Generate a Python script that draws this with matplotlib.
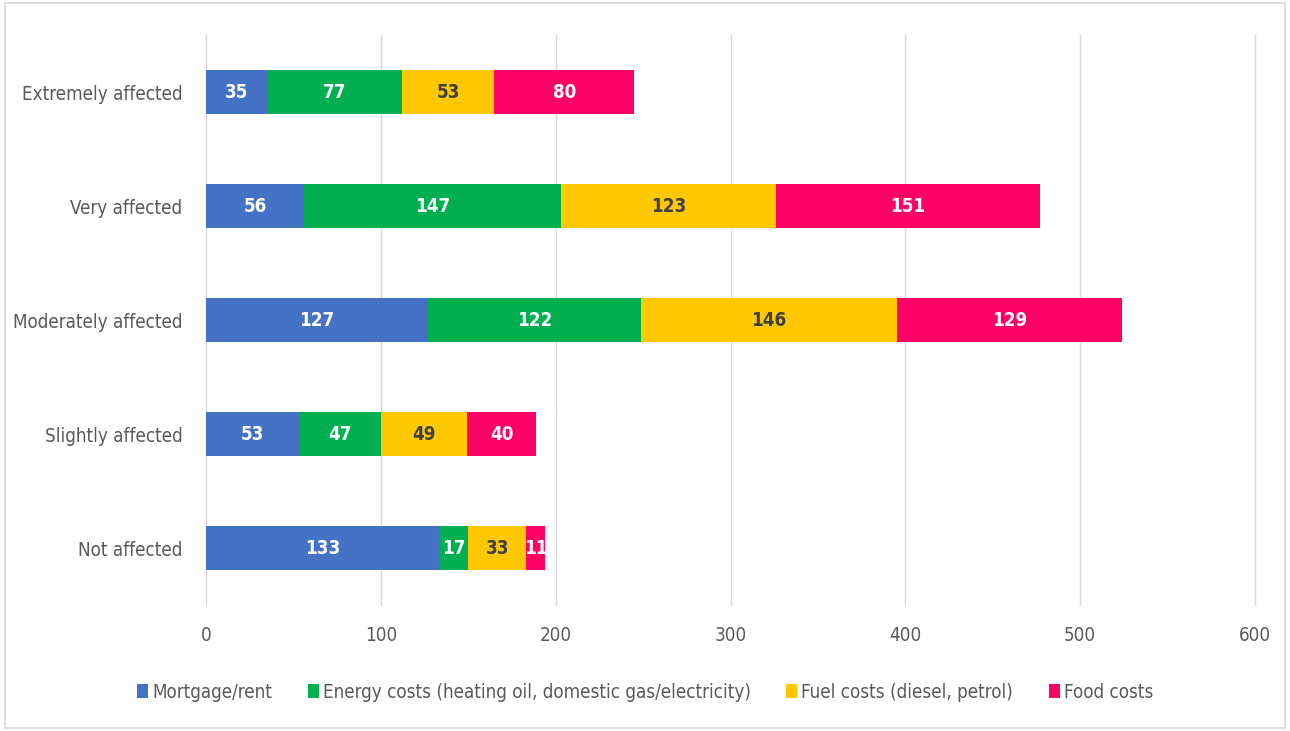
import numpy as np
import matplotlib.pyplot as plt
from matplotlib import font_manager
from matplotlib.patches import Rectangle

# condensed face if there is one, like the narrow office font of the original
narrow = [f for f in font_manager.fontManager.ttflist
          if f.name == 'DejaVu Sans' and f.stretch == 'condensed']
plt.rcParams['font.family'] = ['DejaVu Sans']
if narrow:
    plt.rcParams['font.stretch'] = 'condensed'
    fs = 13.5
else:
    fs = 12

categories = ['Extremely affected', 'Very affected', 'Moderately affected',
              'Slightly affected', 'Not affected']
mortgage = [35, 56, 127, 53, 133]
energy = [77, 147, 122, 47, 17]
fuel = [53, 123, 146, 49, 33]
food = [80, 151, 129, 40, 11]
series_names = ['Mortgage/rent', 'Energy costs (heating oil, domestic gas/electricity)',
                'Fuel costs (diesel, petrol)', 'Food costs']
colors = ['#4472C4', '#00B050', '#FFC800', '#FF0066']
label_colors = ['white', 'white', '#404040', 'white']

fig = plt.figure(figsize=(12.9, 7.31), dpi=100)
ax = fig.add_axes([206/1290, 1-605/731, (1255-206)/1290, 570/731])

y = np.arange(len(categories))
left = np.zeros(len(categories))
for vals, name, c, lc in zip([mortgage, energy, fuel, food], series_names, colors, label_colors):
    bars = ax.barh(y, vals, left=left, height=0.385, color=c, label=name, zorder=3)
    ax.bar_label(bars, labels=[str(v) for v in vals], label_type='center',
                 color=lc, fontsize=fs, fontweight='bold')
    left = left + np.array(vals)

ax.set_ylim(4.5, -0.5)
ax.set_xlim(0, 600)
ax.set_xticks(range(0, 601, 100))
ax.set_yticks(y)
ax.set_yticklabels(categories)
ax.tick_params(length=0, labelsize=fs, labelcolor='#595959')
ax.tick_params(axis='y', pad=17)
ax.tick_params(axis='x', pad=15)
ax.grid(axis='x', color='#d9d9d9', linewidth=1, zorder=0)
for gl in ax.get_xgridlines():
    gl.set_clip_on(False)
for s in ax.spines.values():
    s.set_visible(False)

leg = fig.legend(loc='center', bbox_to_anchor=(0.5, 1-692/731), ncol=4, frameon=False,
                 fontsize=fs, handlelength=0.6, handleheight=0.7, handletextpad=0.2,
                 columnspacing=1.9)
for t in leg.get_texts():
    t.set_color('#595959')

fig.patches.append(Rectangle((5/1290, 3/731), 1280/1290, 725/731, transform=fig.transFigure,
                             fill=False, edgecolor='#d9d9d9', linewidth=1.2))

fig.savefig('out.png', dpi=100)
